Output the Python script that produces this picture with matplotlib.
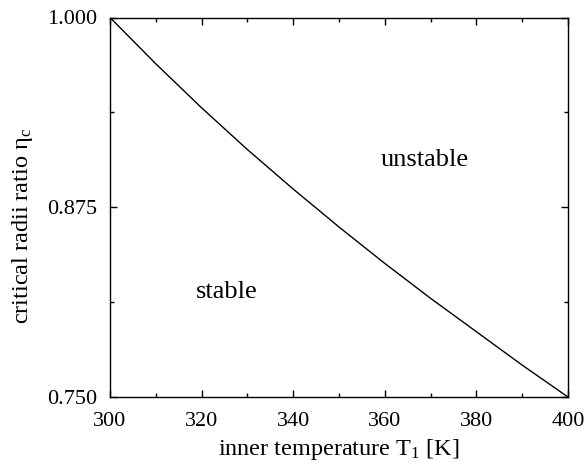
import matplotlib
matplotlib.use("Agg")
import matplotlib.pyplot as plt
from matplotlib.ticker import MultipleLocator, FormatStrFormatter

plt.rcParams['font.family'] = ['Liberation Serif', 'DejaVu Serif']
plt.rcParams['mathtext.fontset'] = 'custom'
plt.rcParams['mathtext.rm'] = 'Liberation Serif'
plt.rcParams['mathtext.it'] = 'Liberation Serif:italic'

# inner temperature T1 [K] and critical radii ratio
temperature = [300, 310, 320, 330, 340, 350, 360, 370, 380, 390, 400]
eta_c = [1.0, 0.9695, 0.9405, 0.913, 0.887, 0.862, 0.838, 0.815, 0.793, 0.771, 0.75]

fig = plt.figure(figsize=(5.86, 4.66), dpi=100)
ax = fig.add_axes([110 / 586, 1 - 397 / 466, 458 / 586, 379.5 / 466])

ax.plot(temperature, eta_c, color='black', linewidth=1.0)

ax.set_xlim(300, 400)
ax.set_ylim(0.75, 1.0)
ax.xaxis.set_major_locator(MultipleLocator(20))
ax.xaxis.set_minor_locator(MultipleLocator(10))
ax.yaxis.set_major_locator(MultipleLocator(0.125))
ax.yaxis.set_minor_locator(MultipleLocator(0.0625))
ax.yaxis.set_major_formatter(FormatStrFormatter('%.3f'))

ax.tick_params(which='both', direction='in', top=True, right=True,
               labelsize=16, width=1.0)
ax.tick_params(which='major', length=5)
ax.tick_params(axis='x', which='major', pad=11)
ax.tick_params(axis='y', which='major', pad=9)
ax.tick_params(which='minor', length=3)
for s in ax.spines.values():
    s.set_linewidth(1.0)

ax.text(368.8, 0.906, 'unstable', fontsize=19, ha='center', va='center')
ax.text(325.5, 0.819, 'stable', fontsize=19, ha='center', va='center')

ax.set_xlabel(r'inner temperature T$_1$ [K]', fontsize=17.5, labelpad=4)
ax.set_ylabel(r'critical radii ratio η$_\mathrm{c}$', fontsize=17.5)
ax.yaxis.set_label_coords(-0.164, 0.45)

fig.savefig('out.png', dpi=100)
